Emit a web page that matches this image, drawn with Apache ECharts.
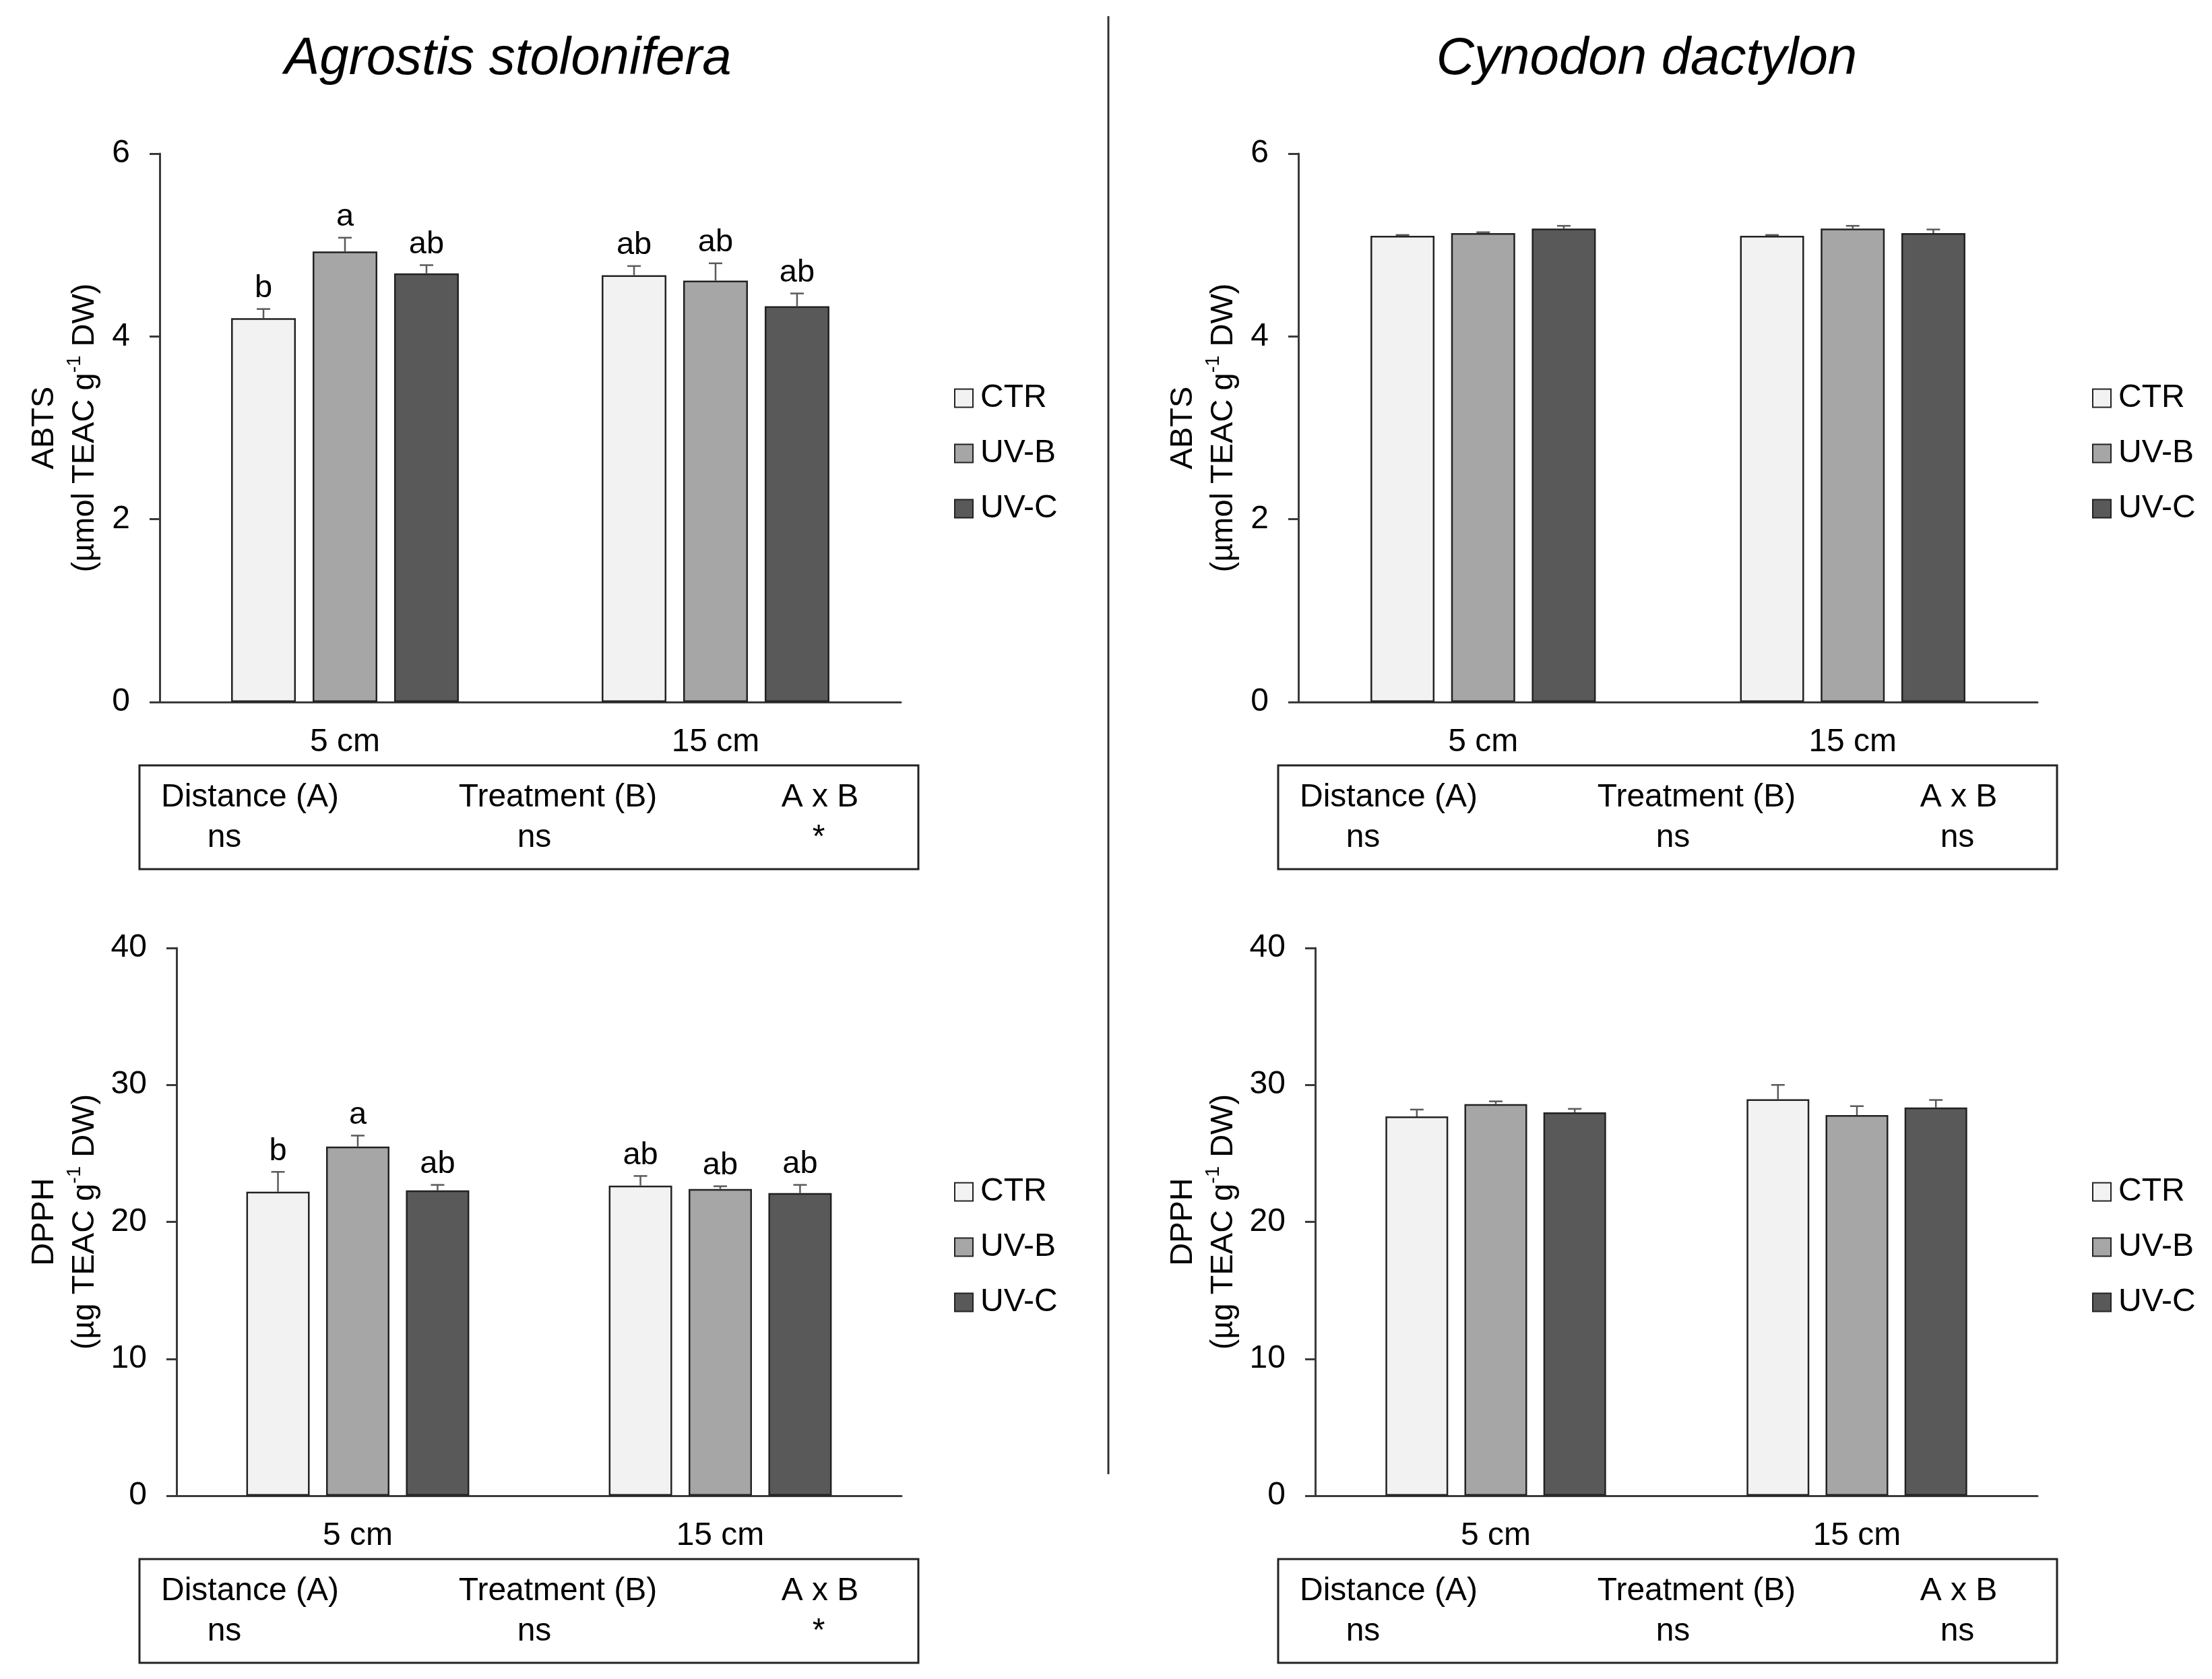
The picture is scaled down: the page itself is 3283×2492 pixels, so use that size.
<!DOCTYPE html>
<html>
<head>
<meta charset="utf-8">
<script src="https://cdn.jsdelivr.net/npm/echarts@6/dist/echarts.min.js"></script>
<style>
html, body { margin: 0; padding: 0; background: #fff; }
#chartView { width: 3283px; height: 2492px; }
</style>
</head>
<body>
<div id="chartView"></div>
<script>
// categories and treatments
var categories = ['5 cm', '15 cm'];
var treatments = ['CTR', 'UV-B', 'UV-C'];
var species = ['Agrostis stolonifera', 'Cynodon dactylon'];

// rows: CTR, UV-B, UV-C ; columns: 5 cm, 15 cm
var agrAbtsMean = [[4.20, 4.67], [4.93, 4.61], [4.69, 4.33]];
var agrAbtsErr = [[0.10, 0.10], [0.15, 0.19], [0.09, 0.14]];
var agrAbtsLetters = [['b', 'ab'], ['a', 'ab'], ['ab', 'ab']];

var agrDpphMean = [[22.2, 22.65], [25.5, 22.4], [22.3, 22.1]];
var agrDpphErr = [[1.45, 0.7], [0.8, 0.2], [0.4, 0.6]];
var agrDpphLetters = [['b', 'ab'], ['a', 'ab'], ['ab', 'ab']];

var cynAbtsMean = [[5.10, 5.10], [5.13, 5.18], [5.18, 5.13]];
var cynAbtsErr = [[0.01, 0.01], [0.01, 0.03], [0.03, 0.04]];

var cynDpphMean = [[27.7, 28.95], [28.6, 27.8], [28.0, 28.35]];
var cynDpphErr = [[0.5, 1.05], [0.2, 0.65], [0.25, 0.55]];

// two-way ANOVA summary under each chart
var statHeads = ['Distance (A)', 'Treatment (B)', 'A x B'];
var agrAbtsStats = ['ns', 'ns', '*'];
var agrDpphStats = ['ns', 'ns', '*'];
var cynAbtsStats = ['ns', 'ns', 'ns'];
var cynDpphStats = ['ns', 'ns', 'ns'];

var FONT = '"Liberation Sans", Arial, sans-serif';
var barColors = ['#f2f2f2', '#a6a6a6', '#595959'];
var AXIS = '#3a3a3a';

var panels = [
	{ grid: { left: 237, top: 228, width: 1100, height: 814 }, bw: 96, max: 6, interval: 2, line1: 'ABTS', unit: 'µmol', gap: 81,
	  mean: agrAbtsMean, err: agrAbtsErr, letters: agrAbtsLetters, stats: agrAbtsStats, legend: [1411, 562], box: [207, 1136] },
	{ grid: { left: 1927, top: 228, width: 1097, height: 814 }, bw: 95, max: 6, interval: 2, line1: 'ABTS', unit: 'µmol', gap: 81,
	  mean: cynAbtsMean, err: cynAbtsErr, letters: null, stats: cynAbtsStats, legend: [3100, 562], box: [1897, 1136] },
	{ grid: { left: 262, top: 1407, width: 1076, height: 813 }, bw: 94, max: 40, interval: 10, line1: 'DPPH', unit: 'µg', gap: 106,
	  mean: agrDpphMean, err: agrDpphErr, letters: agrDpphLetters, stats: agrDpphStats, legend: [1411, 1740], box: [207, 2314] },
	{ grid: { left: 1952, top: 1407, width: 1072, height: 813 }, bw: 93, max: 40, interval: 10, line1: 'DPPH', unit: 'µg', gap: 106,
	  mean: cynDpphMean, err: cynDpphErr, letters: null, stats: cynDpphStats, legend: [3100, 1740], box: [1897, 2314] }
];

var grids = [], xAxes = [], yAxes = [], series = [], legends = [], graphics = [];

panels.forEach(function (p, i) {
	grids.push({ left: p.grid.left, top: p.grid.top, width: p.grid.width, height: p.grid.height, containLabel: false, outerBoundsMode: 'none' });
	xAxes.push({
		type: 'category', gridIndex: i, data: categories,
		axisLine: { lineStyle: { color: AXIS, width: 3 } },
		axisTick: { show: false },
		axisLabel: { fontSize: 48, fontFamily: FONT, color: '#000', margin: 36 }
	});
	yAxes.push({
		type: 'value', gridIndex: i, min: 0, max: p.max, interval: p.interval,
		splitLine: { show: false },
		axisLine: { show: true, lineStyle: { color: AXIS, width: 3 } },
		axisTick: { show: true, length: 15, lineStyle: { color: AXIS, width: 3 } },
		axisLabel: { fontSize: 48, fontFamily: FONT, color: '#000', margin: 44 },
		name: '{t|' + p.line1 + '}\n{t|(' + p.unit + ' TEAC g}{s|-1}{t| DW)}',
		nameLocation: 'middle', nameRotate: 90, nameGap: p.gap, nameMoveOverlap: false,
		nameTextStyle: {
			fontSize: 47, fontFamily: FONT, color: '#000', lineHeight: 60,
			rich: {
				t: { fontSize: 47, fontFamily: FONT, color: '#000', lineHeight: 60 },
				s: { fontSize: 29, fontFamily: FONT, color: '#000', lineHeight: 44, verticalAlign: 'top' }
			}
		}
	});
	var errData = [];
	var letterFlat = [];
	treatments.forEach(function (t, k) {
		series.push({
			name: t, type: 'bar', xAxisIndex: i, yAxisIndex: i,
			barWidth: p.bw, barGap: '26%',
			itemStyle: { color: barColors[k], borderColor: '#222', borderWidth: 2.5 },
			data: p.mean[k]
		});
		categories.forEach(function (c, j) {
			errData.push([j, p.mean[k][j], p.err[k][j], k]);
			letterFlat.push(p.letters ? p.letters[k][j] : '');
		});
	});
	var step = p.bw * 1.26;
	series.push({
		type: 'custom', xAxisIndex: i, yAxisIndex: i, z: 5,
		encode: { x: 0, y: 1 },
		data: errData,
		renderItem: function (params, api) {
			var j = api.value(0), m = api.value(1), e = api.value(2), k = api.value(3);
			var base = api.coord([j, m]);
			var top = api.coord([j, m + e]);
			var x = base[0] + (k - 1) * step;
			var children = [
				{ type: 'line', shape: { x1: x, y1: base[1], x2: x, y2: top[1] }, style: { stroke: '#5a5a5a', lineWidth: 2.5 } },
				{ type: 'line', shape: { x1: x - 10, y1: top[1], x2: x + 10, y2: top[1] }, style: { stroke: '#5a5a5a', lineWidth: 2.5 } }
			];
			var letter = letterFlat[params.dataIndex];
			if (letter) {
				children.push({
					type: 'text', x: x, y: top[1] - 7,
					style: { text: letter, fontSize: 47, fontFamily: FONT, fill: '#000', align: 'center', verticalAlign: 'bottom' }
				});
			}
			return { type: 'group', children: children };
		}
	});
	legends.push({
		orient: 'vertical', left: p.legend[0], top: p.legend[1],
		itemWidth: 27, itemHeight: 27, itemGap: 34, icon: 'rect', selectedMode: false,
		data: treatments,
		textStyle: { fontSize: 48, fontFamily: FONT, color: '#000', lineHeight: 48, padding: [0, 0, 0, 6] }
	});
	// ANOVA box
	var bx = p.box[0], by = p.box[1];
	graphics.push({ type: 'rect', x: bx, y: by, shape: { width: 1156, height: 154 }, style: { fill: 'none', stroke: '#222', lineWidth: 3 } });
	var headX = [bx + 32, bx + 621, bx + 1010];
	var headAlign = ['left', 'center', 'center'];
	var valX = [bx + 126, bx + 586, bx + 1008];
	statHeads.forEach(function (h, q) {
		graphics.push({ type: 'text', x: headX[q], y: by + 48, style: { text: h, fontSize: 48, fontFamily: FONT, fill: '#000', align: headAlign[q], verticalAlign: 'middle' } });
		graphics.push({ type: 'text', x: valX[q], y: by + 108, style: { text: p.stats[q], fontSize: 48, fontFamily: FONT, fill: '#000', align: 'center', verticalAlign: 'middle' } });
	});
});

// species titles and divider
graphics.push({ type: 'text', x: 754, y: 88, style: { text: species[0], fontSize: 78, fontStyle: 'italic', fontFamily: FONT, fill: '#000', align: 'center', verticalAlign: 'middle' } });
graphics.push({ type: 'text', x: 2444, y: 88, style: { text: species[1], fontSize: 78, fontStyle: 'italic', fontFamily: FONT, fill: '#000', align: 'center', verticalAlign: 'middle' } });
graphics.push({ type: 'line', shape: { x1: 1645, y1: 24, x2: 1645, y2: 2188 }, style: { stroke: '#333', lineWidth: 3 } });

var chartView = echarts.init(document.getElementById('chartView'));
chartView.setOption({
	backgroundColor: '#fff',
	animation: false,
	grid: grids,
	xAxis: xAxes,
	yAxis: yAxes,
	legend: legends,
	series: series,
	graphic: graphics
});
</script>
</body>
</html>
